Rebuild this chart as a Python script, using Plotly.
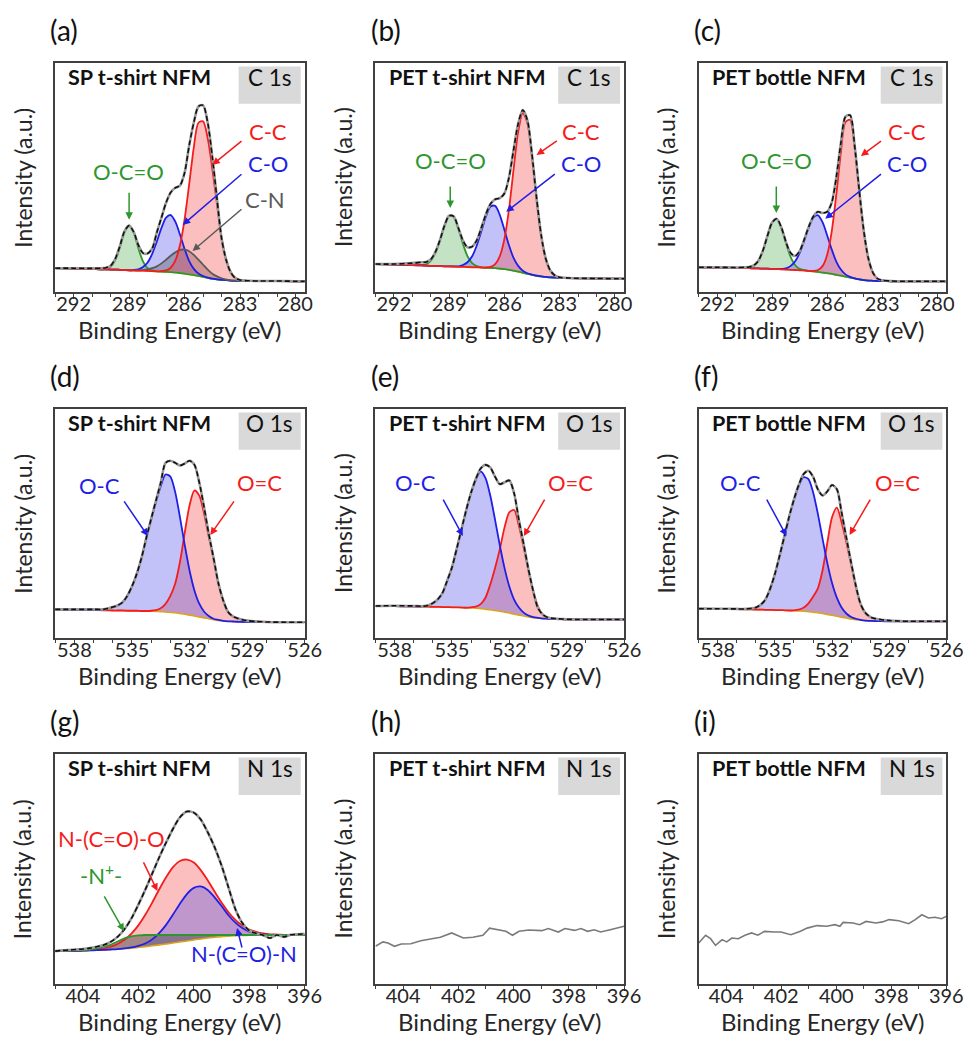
import plotly.graph_objects as go

# ---------------- DATA ----------------
# intensities are in arbitrary units (fraction of panel height)
panel_tags = ["(a)", "(b)", "(c)", "(d)", "(e)", "(f)", "(g)", "(h)", "(i)"]
sample_names = ["SP t-shirt NFM", "PET t-shirt NFM", "PET bottle NFM"] * 3
core_levels = ["C 1s"] * 3 + ["O 1s"] * 3 + ["N 1s"] * 3

# ---- C 1s binding-energy grid (eV)
c1s_be = [293.0, 292.0, 291.0, 290.5, 290.25, 290.0, 289.75, 289.5, 289.25, 289.0,
          288.75, 288.5, 288.25, 288.0, 287.75, 287.5, 287.25, 287.0, 286.75, 286.5,
          286.25, 286.0, 285.75, 285.5, 285.25, 285.0, 284.75, 284.5, 284.25, 284.0,
          283.75, 283.5, 283.25, 283.0, 282.5, 282.0, 281.0, 280.0, 279.5]

# (a) SP t-shirt C 1s
a_measured = [0.104, 0.104, 0.103, 0.104, 0.106, 0.115, 0.145, 0.200, 0.265, 0.290,
              0.262, 0.205, 0.170, 0.168, 0.190, 0.260, 0.325, 0.390, 0.435, 0.455,
              0.465, 0.520, 0.640, 0.740, 0.810, 0.815, 0.740, 0.590, 0.410, 0.235,
              0.140, 0.085, 0.060, 0.052, 0.049, 0.048, 0.048, 0.047, 0.047]
a_background = [0.104, 0.102, 0.100, 0.099, 0.099, 0.098, 0.098, 0.097, 0.096, 0.095,
                0.094, 0.093, 0.093, 0.092, 0.091, 0.090, 0.089, 0.088, 0.087, 0.085,
                0.083, 0.080, 0.077, 0.074, 0.070, 0.066, 0.062, 0.058, 0.055, 0.053,
                0.052, 0.050, 0.049, 0.049, 0.048, 0.048, 0.048, 0.047, 0.047]
a_oco = [0, 0, 0, 0, 0.003, 0.012, 0.041, 0.098, 0.164, 0.195,
         0.164, 0.098, 0.041, 0.012, 0.003, 0, 0, 0, 0, 0,
         0, 0, 0, 0, 0, 0, 0, 0, 0, 0,
         0, 0, 0, 0, 0, 0, 0, 0, 0]
a_co = [0, 0, 0, 0, 0, 0, 0, 0, 0, 0,
        0.002, 0.006, 0.016, 0.037, 0.076, 0.131, 0.191, 0.237, 0.249, 0.222,
        0.168, 0.108, 0.058, 0.027, 0.011, 0.004, 0.001, 0, 0, 0,
        0, 0, 0, 0, 0, 0, 0, 0, 0]
a_cn = [0, 0, 0, 0, 0, 0, 0, 0, 0, 0,
        0.001, 0.001, 0.003, 0.007, 0.013, 0.022, 0.036, 0.053, 0.071, 0.088,
        0.101, 0.105, 0.101, 0.088, 0.071, 0.053, 0.036, 0.022, 0.013, 0.007,
        0.003, 0.001, 0.001, 0, 0, 0, 0, 0, 0]
a_cc = [0, 0, 0, 0, 0, 0, 0, 0, 0, 0,
        0, 0, 0, 0, 0, 0, 0.002, 0.006, 0.019, 0.052,
        0.121, 0.236, 0.394, 0.558, 0.669, 0.679, 0.610, 0.480, 0.330, 0.185,
        0.090, 0.038, 0.013, 0.004, 0, 0, 0, 0, 0]

# (b) PET t-shirt C 1s
b_measured = [0.122, 0.122, 0.126, 0.130, 0.131, 0.142, 0.174, 0.226, 0.290, 0.333,
              0.330, 0.280, 0.225, 0.195, 0.198, 0.225, 0.280, 0.340, 0.385, 0.405,
              0.410, 0.430, 0.500, 0.620, 0.735, 0.795, 0.750, 0.600, 0.410, 0.248,
              0.145, 0.093, 0.072, 0.064, 0.061, 0.060, 0.059, 0.058, 0.058]
b_background = [0.122, 0.120, 0.117, 0.116, 0.115, 0.114, 0.114, 0.113, 0.112, 0.112,
                0.111, 0.110, 0.110, 0.109, 0.108, 0.108, 0.107, 0.106, 0.105, 0.104,
                0.102, 0.100, 0.097, 0.093, 0.089, 0.084, 0.079, 0.075, 0.071, 0.068,
                0.066, 0.064, 0.063, 0.062, 0.061, 0.060, 0.059, 0.058, 0.058]
b_oco = [0, 0, 0, 0.002, 0.007, 0.022, 0.056, 0.113, 0.178, 0.221,
         0.216, 0.165, 0.100, 0.047, 0.018, 0.005, 0.001, 0, 0, 0,
         0, 0, 0, 0, 0, 0, 0, 0, 0, 0,
         0, 0, 0, 0, 0, 0, 0, 0, 0]
b_co = [0, 0, 0, 0, 0, 0, 0, 0, 0, 0,
        0.001, 0.002, 0.008, 0.021, 0.048, 0.095, 0.158, 0.224, 0.268, 0.272,
        0.235, 0.172, 0.107, 0.056, 0.025, 0.009, 0.003, 0.001, 0, 0,
        0, 0, 0, 0, 0, 0, 0, 0, 0]
b_cc = [0, 0, 0, 0, 0, 0, 0, 0, 0, 0,
        0, 0, 0, 0, 0, 0, 0, 0.001, 0.005, 0.018,
        0.054, 0.131, 0.264, 0.442, 0.610, 0.697, 0.659, 0.515, 0.333, 0.177,
        0.078, 0.029, 0.009, 0.002, 0, 0, 0, 0, 0]

# (c) PET bottle C 1s
c_measured = [0.108, 0.108, 0.107, 0.108, 0.109, 0.116, 0.136, 0.181, 0.246, 0.303,
              0.320, 0.283, 0.220, 0.171, 0.157, 0.178, 0.228, 0.285, 0.330, 0.350,
              0.345, 0.350, 0.390, 0.500, 0.650, 0.765, 0.772, 0.640, 0.445, 0.266,
              0.146, 0.084, 0.058, 0.051, 0.048, 0.047, 0.047, 0.047, 0.047]
c_background = [0.108, 0.107, 0.105, 0.104, 0.104, 0.103, 0.103, 0.102, 0.102, 0.101,
                0.100, 0.099, 0.098, 0.097, 0.096, 0.095, 0.094, 0.092, 0.090, 0.088,
                0.085, 0.082, 0.079, 0.075, 0.071, 0.067, 0.063, 0.059, 0.055, 0.052,
                0.050, 0.049, 0.048, 0.048, 0.047, 0.047, 0.047, 0.047, 0.047]
c_oco = [0, 0, 0, 0.001, 0.003, 0.011, 0.033, 0.079, 0.144, 0.202,
         0.219, 0.182, 0.117, 0.058, 0.022, 0.006, 0.001, 0, 0, 0,
         0, 0, 0, 0, 0, 0, 0, 0, 0, 0,
         0, 0, 0, 0, 0, 0, 0, 0, 0]
c_co = [0, 0, 0, 0, 0, 0, 0, 0, 0, 0,
        0, 0.002, 0.005, 0.016, 0.037, 0.075, 0.130, 0.190, 0.235, 0.247,
        0.220, 0.166, 0.107, 0.058, 0.027, 0.010, 0.003, 0.001, 0, 0,
        0, 0, 0, 0, 0, 0, 0, 0, 0]
c_cc = [0, 0, 0, 0, 0, 0, 0, 0, 0, 0,
        0, 0, 0, 0, 0, 0, 0, 0, 0.002, 0.008,
        0.028, 0.080, 0.185, 0.350, 0.538, 0.675, 0.689, 0.573, 0.388, 0.214,
        0.096, 0.035, 0.010, 0.003, 0, 0, 0, 0, 0]

# ---- O 1s binding-energy grid (eV)
o1s_be = [539.0, 538.0, 537.0, 536.5, 536.25, 536.0, 535.75, 535.5, 535.25, 535.0,
          534.75, 534.5, 534.25, 534.0, 533.75, 533.5, 533.25, 533.0, 532.75, 532.5,
          532.25, 532.0, 531.75, 531.5, 531.25, 531.0, 530.75, 530.5, 530.25, 530.0,
          529.75, 529.5, 529.25, 529.0, 528.5, 528.0, 527.0, 526.0]

# (d) SP t-shirt O 1s
d_measured = [0.125, 0.125, 0.125, 0.125, 0.129, 0.135, 0.142, 0.155, 0.183, 0.225,
              0.280, 0.350, 0.438, 0.520, 0.600, 0.678, 0.765, 0.774, 0.765, 0.753,
              0.762, 0.774, 0.757, 0.682, 0.574, 0.455, 0.350, 0.240, 0.165, 0.115,
              0.095, 0.086, 0.080, 0.076, 0.072, 0.070, 0.069, 0.069]
d_background = [0.125, 0.123, 0.122, 0.121, 0.121, 0.120, 0.120, 0.120, 0.119, 0.119,
                0.119, 0.118, 0.118, 0.117, 0.116, 0.115, 0.114, 0.112, 0.110, 0.107,
                0.104, 0.100, 0.096, 0.092, 0.088, 0.084, 0.080, 0.077, 0.075, 0.073,
                0.072, 0.071, 0.070, 0.070, 0.069, 0.069, 0.069, 0.069]
d_oc = [0, 0, 0, 0.003, 0.008, 0.015, 0.022, 0.035, 0.064, 0.106,
        0.161, 0.232, 0.320, 0.400, 0.478, 0.548, 0.600, 0.593, 0.528, 0.421,
        0.302, 0.195, 0.113, 0.059, 0.028, 0.012, 0.004, 0.002, 0, 0,
        0, 0, 0, 0, 0, 0, 0, 0]
d_oeqc = [0, 0, 0, 0, 0, 0, 0, 0, 0, 0,
          0, 0, 0, 0.002, 0.006, 0.015, 0.035, 0.072, 0.127, 0.225,
          0.356, 0.479, 0.548, 0.531, 0.458, 0.359, 0.266, 0.161, 0.090, 0.042,
          0.023, 0.015, 0.010, 0.006, 0.003, 0.001, 0, 0]

# (e) PET t-shirt O 1s
e_measured = [0.140, 0.141, 0.140, 0.139, 0.142, 0.152, 0.168, 0.196, 0.250, 0.308,
              0.390, 0.475, 0.560, 0.635, 0.695, 0.740, 0.756, 0.745, 0.705, 0.672,
              0.680, 0.688, 0.632, 0.515, 0.410, 0.300, 0.205, 0.130, 0.102, 0.090,
              0.086, 0.084, 0.083, 0.082, 0.081, 0.081, 0.081, 0.081]
e_background = [0.140, 0.139, 0.138, 0.137, 0.137, 0.136, 0.136, 0.135, 0.135, 0.134,
                0.134, 0.133, 0.132, 0.131, 0.130, 0.128, 0.126, 0.123, 0.120, 0.117,
                0.113, 0.109, 0.104, 0.100, 0.096, 0.092, 0.089, 0.087, 0.085, 0.084,
                0.083, 0.082, 0.082, 0.081, 0.081, 0.081, 0.081, 0.081]
e_oc = [0, 0, 0, 0.002, 0.005, 0.016, 0.032, 0.061, 0.115, 0.174,
        0.256, 0.342, 0.428, 0.503, 0.562, 0.600, 0.573, 0.500, 0.398, 0.289,
        0.192, 0.116, 0.064, 0.033, 0.015, 0.006, 0.002, 0.001, 0, 0,
        0, 0, 0, 0, 0, 0, 0, 0]
e_oeqc = [0, 0, 0, 0, 0, 0, 0, 0, 0, 0,
          0, 0, 0, 0.003, 0.007, 0.020, 0.050, 0.110, 0.185, 0.270,
          0.370, 0.440, 0.455, 0.390, 0.300, 0.202, 0.114, 0.050, 0.018, 0.006,
          0.002, 0.001, 0, 0, 0, 0, 0, 0]

# (f) PET bottle O 1s
f_measured = [0.128, 0.128, 0.127, 0.127, 0.129, 0.133, 0.145, 0.168, 0.215, 0.280,
              0.360, 0.445, 0.530, 0.605, 0.668, 0.715, 0.730, 0.705, 0.650, 0.622,
              0.640, 0.668, 0.650, 0.548, 0.438, 0.330, 0.228, 0.148, 0.110, 0.092,
              0.085, 0.081, 0.078, 0.076, 0.074, 0.073, 0.073, 0.073]
f_background = [0.128, 0.127, 0.126, 0.125, 0.125, 0.124, 0.124, 0.123, 0.123, 0.122,
                0.122, 0.121, 0.120, 0.119, 0.118, 0.117, 0.115, 0.113, 0.110, 0.107,
                0.103, 0.099, 0.095, 0.091, 0.087, 0.083, 0.080, 0.078, 0.076, 0.075,
                0.074, 0.074, 0.073, 0.073, 0.073, 0.073, 0.073, 0.073]
f_oc = [0, 0, 0, 0.002, 0.004, 0.009, 0.021, 0.045, 0.092, 0.158,
        0.238, 0.324, 0.410, 0.484, 0.545, 0.585, 0.580, 0.525, 0.434, 0.327,
        0.225, 0.141, 0.081, 0.042, 0.020, 0.009, 0.004, 0.001, 0, 0,
        0, 0, 0, 0, 0, 0, 0, 0]
f_oeqc = [0, 0, 0, 0, 0, 0, 0, 0, 0, 0,
          0, 0, 0, 0.002, 0.006, 0.015, 0.035, 0.067, 0.106, 0.188,
          0.312, 0.428, 0.474, 0.415, 0.331, 0.238, 0.144, 0.069, 0.034, 0.017,
          0.011, 0.007, 0.005, 0.003, 0.001, 0, 0, 0]

# ---- N 1s binding-energy grid (eV)
n1s_be = [405.0, 404.75, 404.5, 404.25, 404.0, 403.75, 403.5, 403.25, 403.0, 402.75,
          402.5, 402.25, 402.0, 401.75, 401.5, 401.25, 401.0, 400.75, 400.5, 400.25,
          400.0, 399.75, 399.5, 399.25, 399.0, 398.75, 398.5, 398.25, 398.0, 397.75,
          397.5, 397.25, 397.0, 396.75, 396.5, 396.25, 396.0]

# (g) SP t-shirt N 1s
g_measured = [0.143, 0.146, 0.148, 0.150, 0.152, 0.156, 0.162, 0.170, 0.183, 0.205,
              0.238, 0.285, 0.345, 0.410, 0.480, 0.550, 0.615, 0.675, 0.725, 0.750,
              0.745, 0.715, 0.660, 0.595, 0.515, 0.420, 0.325, 0.265, 0.232, 0.220,
              0.212, 0.200, 0.213, 0.205, 0.214, 0.216, 0.218]
g_background = [0.143, 0.143, 0.144, 0.144, 0.145, 0.146, 0.147, 0.148, 0.150, 0.152,
                0.154, 0.156, 0.159, 0.162, 0.166, 0.170, 0.174, 0.178, 0.183, 0.187,
                0.192, 0.196, 0.200, 0.203, 0.206, 0.208, 0.210, 0.211, 0.212, 0.213,
                0.213, 0.213, 0.213, 0.213, 0.213, 0.213, 0.213]
g_nplus = [0, 0.001, 0.001, 0.002, 0.002, 0.004, 0.008, 0.014, 0.020, 0.033,
           0.044, 0.051, 0.052, 0.051, 0.047, 0.043, 0.039, 0.035, 0.030, 0.026,
           0.021, 0.017, 0.013, 0.010, 0.007, 0.005, 0.003, 0.002, 0.001, 0,
           0, 0, 0, 0, 0, 0, 0]
g_ncoo = [0, 0, 0, 0, 0.001, 0.001, 0.003, 0.006, 0.012, 0.022,
          0.038, 0.063, 0.096, 0.139, 0.188, 0.241, 0.290, 0.330, 0.352, 0.354,
          0.336, 0.299, 0.251, 0.199, 0.148, 0.104, 0.069, 0.043, 0.025, 0.014,
          0.007, 0.003, 0.002, 0.001, 0, 0, 0]
g_ncon = [0, 0, 0, 0, 0, 0, 0, 0, 0, 0,
          0.001, 0.003, 0.007, 0.014, 0.028, 0.051, 0.083, 0.124, 0.166, 0.204,
          0.226, 0.228, 0.209, 0.174, 0.133, 0.091, 0.057, 0.032, 0.016, 0.008,
          0.003, 0.001, 0, 0, 0, 0, 0]

# (h) PET t-shirt N 1s (raw spectrum only)
h_be = [405.0, 404.73, 404.55, 404.31, 404.07, 403.72, 403.36, 403.01, 402.65, 402.24,
        401.82, 401.47, 401.11, 400.87, 400.52, 400.28, 400.04, 399.80, 399.45, 398.98,
        398.74, 398.38, 398.14, 397.79, 397.56, 397.32, 397.08, 396.85, 396.50, 396.0]
h_int = [0.164, 0.183, 0.178, 0.164, 0.174, 0.175, 0.188, 0.197, 0.203, 0.222,
         0.200, 0.203, 0.212, 0.243, 0.236, 0.229, 0.212, 0.229, 0.235, 0.232,
         0.241, 0.226, 0.241, 0.233, 0.241, 0.229, 0.236, 0.226, 0.236, 0.251]

# (i) PET bottle N 1s (raw spectrum only)
i_be = [405.0, 404.75, 404.57, 404.39, 404.15, 403.98, 403.80, 403.56, 403.32, 403.08,
        402.85, 402.61, 402.25, 402.01, 401.65, 401.30, 401.06, 400.70, 400.35, 400.05,
        399.87, 399.75, 399.39, 399.15, 398.92, 398.56, 398.32, 398.08, 397.73, 397.37,
        397.13, 396.89, 396.65, 396.41, 396.18, 396.0]
i_int = [0.178, 0.212, 0.197, 0.168, 0.193, 0.183, 0.200, 0.197, 0.212, 0.222,
         0.212, 0.229, 0.226, 0.226, 0.214, 0.229, 0.243, 0.254, 0.251, 0.258,
         0.251, 0.268, 0.265, 0.258, 0.272, 0.265, 0.270, 0.280, 0.275, 0.262,
         0.280, 0.301, 0.287, 0.290, 0.284, 0.294]

# ---------------- STYLE / LAYOUT ----------------
FONT = "Lato, 'Open Sans', sans-serif"
TXT = "#262626"
AX = "#404040"
GREEN, RED, BLUE, GREYL = "#2e962e", "#f41c1c", "#1f1fe6", "#5a5a5a"
F_GREEN = "rgba(60,160,60,0.30)"
F_RED = "rgba(245,60,60,0.33)"
F_BLUE = "rgba(70,70,235,0.33)"
F_GREY = "rgba(70,70,70,0.33)"
F_DARK = "rgba(80,80,80,0.50)"
BG_COL = "#d8a51c"
YS = 8  # vertical nudge (px) for Lato text so glyphs sit like the reference

COL_DOM = [(48 / 974, 302 / 974), (374 / 974, 627 / 974), (703 / 974, 955 / 974)]
ROW_DOM = [(1 - 284 / 1037, 1 - 55 / 1037), (1 - 630 / 1037, 1 - 401 / 1037),
           (1 - 976 / 1037, 1 - 746 / 1037)]
X_SET = {0: dict(range=[293, 279.5], tick0=280, dtick=3),
         1: dict(range=[539, 526], tick0=526, dtick=3),
         2: dict(range=[405, 396], tick0=396, dtick=2)}

fig = go.Figure()


def ax_names(k):
    s = "" if k == 1 else str(k)
    return "x" + s, "y" + s


def add_fit_panel(k, be, measured, background, comps):
    xa, ya = ax_names(k)
    rev_be = be[::-1]
    rev_bg = background[::-1]
    # filled component areas (component sits on the background)
    for vals, lcol, fcol in comps:
        top = [b + v for b, v in zip(background, vals)]
        fig.add_trace(go.Scatter(x=be + rev_be, y=top + rev_bg, mode="lines", fill="toself",
                                 fillcolor=fcol, line=dict(width=0, shape="spline", smoothing=0.8),
                                 xaxis=xa, yaxis=ya, hoverinfo="skip"))
    fig.add_trace(go.Scatter(x=be, y=background, mode="lines",
                             line=dict(color=BG_COL, width=1.6, shape="spline", smoothing=0.8),
                             xaxis=xa, yaxis=ya, hoverinfo="skip"))
    for vals, lcol, fcol in comps:
        top = [b + v for b, v in zip(background, vals)]
        fig.add_trace(go.Scatter(x=be, y=top, mode="lines",
                                 line=dict(color=lcol, width=1.8, shape="spline", smoothing=0.8),
                                 xaxis=xa, yaxis=ya, hoverinfo="skip"))
    fig.add_trace(go.Scatter(x=be, y=measured, mode="lines",
                             line=dict(color="#9a9a9a", width=2.6, shape="spline", smoothing=0.8),
                             xaxis=xa, yaxis=ya, hoverinfo="skip"))
    fig.add_trace(go.Scatter(x=be, y=measured, mode="lines",
                             line=dict(color="#111111", width=1.6, dash="5px,3px",
                                       shape="spline", smoothing=0.8),
                             xaxis=xa, yaxis=ya, hoverinfo="skip"))


def add_raw_panel(k, be, vals):
    xa, ya = ax_names(k)
    fig.add_trace(go.Scatter(x=be, y=vals, mode="lines", line=dict(color="#7a7a7a", width=1.6),
                             xaxis=xa, yaxis=ya, hoverinfo="skip"))


add_fit_panel(1, c1s_be, a_measured, a_background,
              [(a_oco, GREEN, F_GREEN), (a_co, BLUE, F_BLUE), (a_cn, GREYL, F_GREY), (a_cc, RED, F_RED)])
add_fit_panel(2, c1s_be, b_measured, b_background,
              [(b_oco, GREEN, F_GREEN), (b_co, BLUE, F_BLUE), (b_cc, RED, F_RED)])
add_fit_panel(3, c1s_be, c_measured, c_background,
              [(c_oco, GREEN, F_GREEN), (c_co, BLUE, F_BLUE), (c_cc, RED, F_RED)])
add_fit_panel(4, o1s_be, d_measured, d_background, [(d_oeqc, RED, F_RED), (d_oc, BLUE, F_BLUE)])
add_fit_panel(5, o1s_be, e_measured, e_background, [(e_oeqc, RED, F_RED), (e_oc, BLUE, F_BLUE)])
add_fit_panel(6, o1s_be, f_measured, f_background, [(f_oeqc, RED, F_RED), (f_oc, BLUE, F_BLUE)])
add_fit_panel(7, n1s_be, g_measured, g_background,
              [(g_ncoo, RED, F_RED), (g_ncon, BLUE, F_BLUE), (g_nplus, GREEN, F_DARK)])
add_raw_panel(8, h_be, h_int)
add_raw_panel(9, i_be, i_int)

layout = dict(width=974, height=1037, margin=dict(l=0, r=0, t=0, b=0),
              paper_bgcolor="white", plot_bgcolor="white", showlegend=False,
              font=dict(family=FONT, color=TXT))
annotations = []
shapes = []

for k in range(1, 10):
    r, c = (k - 1) // 3, (k - 1) % 3
    s = "" if k == 1 else str(k)
    xs = X_SET[r]
    layout["xaxis" + s] = dict(domain=COL_DOM[c], anchor="y" + s, range=xs["range"],
                               tickmode="linear", tick0=xs["tick0"], dtick=xs["dtick"],
                               ticks="outside", ticklen=5, tickwidth=1.3, tickcolor=AX,
                               ticklabelstandoff=-12,
                               showline=True, linecolor=AX, linewidth=1.6, mirror=True,
                               showgrid=False, zeroline=False,
                               tickfont=dict(size=20, color=TXT, family=FONT),
                               minor=dict(ticks="outside", ticklen=3, tickwidth=1, tickcolor=AX,
                                          tickmode="linear", tick0=0, dtick=1, showgrid=False))
    layout["yaxis" + s] = dict(domain=ROW_DOM[r], anchor="x" + s, range=[0, 1],
                               showticklabels=False, ticks="", showline=True, linecolor=AX,
                               linewidth=1.6, mirror=True, showgrid=False, zeroline=False)
    xd, yd = "x" + s + " domain", "y" + s + " domain"
    # panel tag
    annotations.append(dict(text=panel_tags[k - 1], xref=xd, yref=yd, x=-0.027, y=1.11,
                            yshift=YS, xanchor="left", yanchor="middle", showarrow=False,
                            font=dict(size=28, color="#111111")))
    # sample name
    annotations.append(dict(text="<b>" + sample_names[k - 1] + "</b>", xref=xd, yref=yd,
                            x=0.045, y=0.903, yshift=YS, xanchor="left", yanchor="middle",
                            showarrow=False, font=dict(size=21.5, color="#111111")))
    # core-level tag box
    shapes.append(dict(type="rect", xref=xd, yref=yd, x0=0.735, x1=0.984, y0=0.822, y1=0.985,
                       fillcolor="#d9d9d9", line=dict(width=0), layer="above"))
    annotations.append(dict(text=core_levels[k - 1], xref=xd, yref=yd, x=0.86, y=0.903,
                            yshift=YS, xanchor="center", yanchor="middle", showarrow=False,
                            font=dict(size=22.5, color="#111111")))
    # axis titles
    annotations.append(dict(text="Binding Energy (eV)", xref=xd, yref=yd, x=0.5, y=-0.197,
                            yshift=YS, xanchor="center", yanchor="middle", showarrow=False,
                            font=dict(size=24, color=TXT)))
    annotations.append(dict(text="Intensity (a.u.)", xref=xd, yref=yd, x=-0.1, y=0.5,
                            xshift=-YS, textangle=-90, xanchor="center", yanchor="middle",
                            showarrow=False, font=dict(size=23, color=TXT)))

# peak labels and arrows: (panel, text, color, text xy, arrow tail xy, arrow head xy)
peak_labels = [
    (1, "O-C=O", GREEN, (289.05, 0.49), (289.0, 0.44), (289.0, 0.315)),
    (1, "C-C", RED, (281.5, 0.664), (282.84, 0.664), (284.5, 0.555)),
    (1, "C-O", BLUE, (281.5, 0.528), (282.84, 0.52), (286.1, 0.293)),
    (1, "C-N", GREYL, (281.66, 0.367), (282.84, 0.367), (285.57, 0.179)),
    (2, "O-C=O", GREEN, (288.94, 0.541), (288.94, 0.467), (288.94, 0.367)),
    (2, "C-C", RED, (281.85, 0.664), (283.07, 0.664), (284.25, 0.598)),
    (2, "C-O", BLUE, (281.85, 0.528), (283.18, 0.52), (285.9, 0.35)),
    (3, "O-C=O", GREEN, (288.77, 0.541), (288.77, 0.467), (288.77, 0.345)),
    (3, "C-C", RED, (281.64, 0.664), (282.98, 0.664), (284.16, 0.594)),
    (3, "C-O", BLUE, (281.64, 0.528), (282.98, 0.52), (286.1, 0.32)),
    (4, "O-C", BLUE, (536.7, 0.633), (535.46, 0.603), (534.17, 0.445)),
    (4, "O=C", RED, (528.35, 0.642), (529.63, 0.603), (530.92, 0.45)),
    (5, "O-C", BLUE, (536.9, 0.642), (535.5, 0.611), (534.43, 0.445)),
    (5, "O=C", RED, (528.78, 0.642), (530.11, 0.611), (531.24, 0.445)),
    (6, "O-C", BLUE, (536.81, 0.642), (535.47, 0.611), (534.39, 0.445)),
    (6, "O=C", RED, (528.55, 0.642), (529.95, 0.611), (531.08, 0.45)),
    (7, "N-(C=O)-O", RED, (402.98, 0.60), (401.84, 0.535), (401.31, 0.404)),
    (7, "-N<sup>+</sup>-", GREEN, (403.33, 0.44), (403.26, 0.387), (402.52, 0.23)),
    (7, "N-(C=O)-N", BLUE, (398.19, 0.10), (398.25, 0.152), (398.44, 0.243)),
]
for k, txt, col, tpos, tail, head in peak_labels:
    xa, ya = ax_names(k)
    annotations.append(dict(text=txt, x=tpos[0], y=tpos[1], xref=xa, yref=ya, showarrow=False,
                            yshift=YS, xanchor="center", yanchor="middle",
                            font=dict(size=22, color=col)))
    annotations.append(dict(text="", x=head[0], y=head[1], xref=xa, yref=ya,
                            ax=tail[0], ay=tail[1], axref=xa, ayref=ya, showarrow=True,
                            arrowhead=2, arrowsize=1, arrowwidth=1.5, arrowcolor=col,
                            standoff=0, startstandoff=0))

layout["annotations"] = annotations
layout["shapes"] = shapes
fig.update_layout(**layout)
fig.write_html("out.html")
